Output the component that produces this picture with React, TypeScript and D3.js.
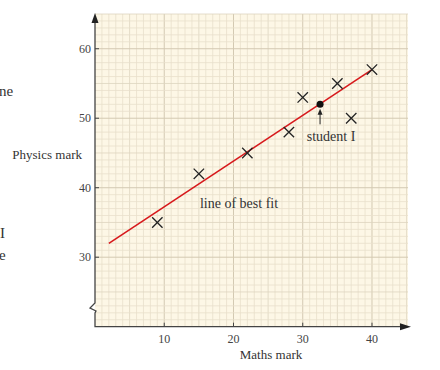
import React from 'react';
import * as d3 from 'd3';

const mathsMarks = [9, 15, 22, 28, 30, 35, 37, 40];
const physicsMarks = [35, 42, 45, 48, 53, 55, 50, 57];
const studentI = { maths: 32.5, physics: 52 };
const bestFit = [{ maths: 2, physics: 32 }, { maths: 40, physics: 57 }];
const xTicks = [10, 20, 30, 40];
const yTicks = [30, 40, 50, 60];

const width = 440;
const height = 370;
const font = '"Liberation Serif", "DejaVu Serif", serif';

const App: React.FC = () => {
  const x = d3.scaleLinear().domain([0, 45.2]).range([95, 408]);
  const y = d3.scaleLinear().domain([20, 65]).range([326.7, 14]);

  const x0 = x(0);
  const y0 = y(20);
  const gridRight = x(45.2);
  const gridTop = y(65);

  const xGrid = d3.range(1, 46);
  const yGrid = d3.range(21, 66);

  const gridColor = (v: number) => (v % 10 === 0 ? '#d3c9b2' : v % 5 === 0 ? '#ddd4bf' : '#e9e0cc');

  const line = d3.line<{ maths: number; physics: number }>()
    .x(d => x(d.maths))
    .y(d => y(d.physics));

  const cross = 5.2;

  return (
    <div style={{ position: 'absolute', left: 0, top: 0 }}>
      <svg width={width} height={height} viewBox={`0 0 ${width} ${height}`} style={{ display: 'block', background: '#fff' }}>
        {/* cut-off page text */}
        <g fontFamily={font} fontSize={15} fill="#333">
          <text x={-1} y={96}>ne</text>
          <text x={0} y={238}>I</text>
          <text x={-1} y={260}>e</text>
        </g>

        <rect x={x0} y={gridTop} width={gridRight - x0} height={y0 - gridTop} fill="#fdf7e6" />
        {xGrid.map(v => (
          <line key={'gx' + v} x1={x(v)} x2={x(v)} y1={gridTop} y2={y0} stroke={gridColor(v)} strokeWidth={v % 10 === 0 ? 1 : 0.8} />
        ))}
        {yGrid.map(v => (
          <line key={'gy' + v} x1={x0} x2={gridRight} y1={y(v)} y2={y(v)} stroke={gridColor(v)} strokeWidth={v % 10 === 0 ? 1 : 0.8} />
        ))}

        {/* axes */}
        <g stroke="#444" strokeWidth={1.3} fill="none">
          <path d={`M${x0},${gridTop + 4} V303 L90,308 L96,311 L${x0},313 V${y0} H${gridRight}`} />
        </g>
        <path d={`M${x0},${gridTop - 1} l-3.5,10 h7 z`} fill="#222" />
        <path d={`M${gridRight + 3},${y0} l-11,-3.5 v7 z`} fill="#222" />

        {xTicks.map(t => (
          <g key={'xt' + t}>
            <line x1={x(t)} x2={x(t)} y1={y0} y2={y0 - 4} stroke="#444" strokeWidth={1} />
            <text x={x(t)} y={y0 + 16} textAnchor="middle" fontFamily={font} fontSize={12} fill="#444">{t}</text>
          </g>
        ))}
        {yTicks.map(t => (
          <g key={'yt' + t}>
            <line x1={x0} x2={x0 + 4} y1={y(t)} y2={y(t)} stroke="#444" strokeWidth={1} />
            <text x={x0 - 4} y={y(t) + 4} textAnchor="end" fontFamily={font} fontSize={12} fill="#444">{t}</text>
          </g>
        ))}

        <text x={271} y={359} textAnchor="middle" fontFamily={font} fontSize={13} fill="#333">Maths mark</text>
        <text x={82} y={159} textAnchor="end" fontFamily={font} fontSize={13} fill="#333">Physics mark</text>

        {/* best fit */}
        <path d={line(bestFit) ?? ''} stroke="#d7191c" strokeWidth={1.6} fill="none" />
        <text x={239} y={208} textAnchor="middle" fontFamily={font} fontSize={14} fill="#333">line of best fit</text>

        {mathsMarks.map((m, i) => (
          <g key={'p' + i} stroke="#222" strokeWidth={1.3}>
            <line x1={x(m) - cross} x2={x(m) + cross} y1={y(physicsMarks[i]) - cross} y2={y(physicsMarks[i]) + cross} />
            <line x1={x(m) - cross} x2={x(m) + cross} y1={y(physicsMarks[i]) + cross} y2={y(physicsMarks[i]) - cross} />
          </g>
        ))}

        <circle cx={x(studentI.maths)} cy={y(studentI.physics)} r={3.5} fill="#111" />
        <line x1={x(studentI.maths)} x2={x(studentI.maths)} y1={y(studentI.physics) + 20} y2={y(studentI.physics) + 8} stroke="#222" strokeWidth={1} />
        <path d={`M${x(studentI.maths)},${y(studentI.physics) + 4.5} l-2.5,6 h5 z`} fill="#222" />
        <text x={331} y={141} textAnchor="middle" fontFamily={font} fontSize={14} fill="#333">student I</text>
      </svg>
    </div>
  );
};

export default App;
